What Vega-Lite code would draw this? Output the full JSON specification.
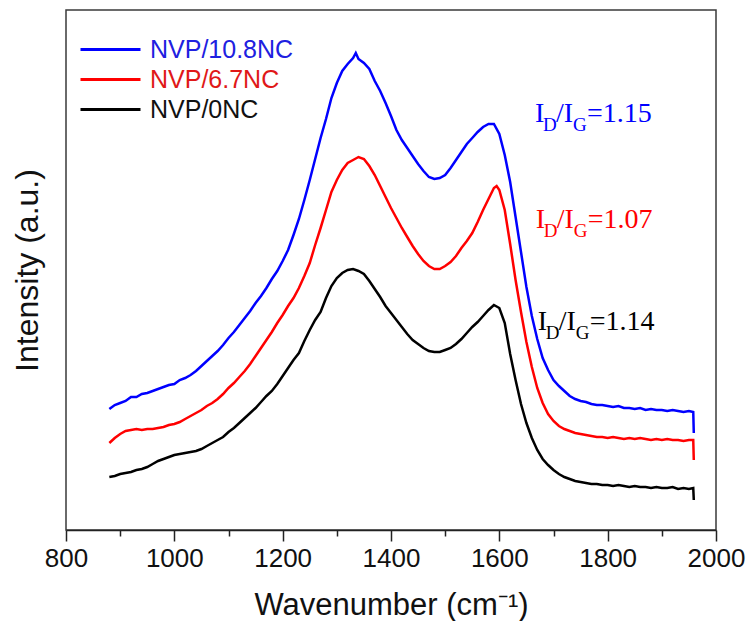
{
"$schema": "https://vega.github.io/schema/vega-lite/v6.json",
"width": 650, "height": 520,
"autosize": {"type": "none"},
"padding": {"left": 66, "top": 10, "right": 30, "bottom": 91},
"background": "white",
"config": {"view": {"stroke": "#3a3a3a", "strokeWidth": 1.5}, "font": "Liberation Sans"},
"datasets": {
"curves": [
{"s":"NVP/10.8NC","wn":880,"int":121},{"s":"NVP/10.8NC","wn":890,"int":125},{"s":"NVP/10.8NC","wn":900,"int":127},{"s":"NVP/10.8NC","wn":910,"int":129},{"s":"NVP/10.8NC","wn":920,"int":133},{"s":"NVP/10.8NC","wn":930,"int":133},{"s":"NVP/10.8NC","wn":940,"int":136},{"s":"NVP/10.8NC","wn":950,"int":137},{"s":"NVP/10.8NC","wn":960,"int":139},{"s":"NVP/10.8NC","wn":970,"int":141},{"s":"NVP/10.8NC","wn":980,"int":143},{"s":"NVP/10.8NC","wn":990,"int":145},{"s":"NVP/10.8NC","wn":1000,"int":146},{"s":"NVP/10.8NC","wn":1010,"int":150},{"s":"NVP/10.8NC","wn":1020,"int":152},{"s":"NVP/10.8NC","wn":1030,"int":155},{"s":"NVP/10.8NC","wn":1040,"int":159},{"s":"NVP/10.8NC","wn":1050,"int":164},{"s":"NVP/10.8NC","wn":1060,"int":169},{"s":"NVP/10.8NC","wn":1070,"int":174},{"s":"NVP/10.8NC","wn":1080,"int":179},{"s":"NVP/10.8NC","wn":1090,"int":185},{"s":"NVP/10.8NC","wn":1100,"int":192},{"s":"NVP/10.8NC","wn":1110,"int":198},{"s":"NVP/10.8NC","wn":1120,"int":205},{"s":"NVP/10.8NC","wn":1130,"int":212},{"s":"NVP/10.8NC","wn":1140,"int":219},{"s":"NVP/10.8NC","wn":1150,"int":227},{"s":"NVP/10.8NC","wn":1160,"int":234},{"s":"NVP/10.8NC","wn":1170,"int":242},{"s":"NVP/10.8NC","wn":1180,"int":251},{"s":"NVP/10.8NC","wn":1190,"int":259},{"s":"NVP/10.8NC","wn":1200,"int":269},{"s":"NVP/10.8NC","wn":1210,"int":280},{"s":"NVP/10.8NC","wn":1220,"int":295},{"s":"NVP/10.8NC","wn":1230,"int":311},{"s":"NVP/10.8NC","wn":1240,"int":330},{"s":"NVP/10.8NC","wn":1250,"int":350},{"s":"NVP/10.8NC","wn":1260,"int":371},{"s":"NVP/10.8NC","wn":1270,"int":392},{"s":"NVP/10.8NC","wn":1280,"int":411},{"s":"NVP/10.8NC","wn":1290,"int":432},{"s":"NVP/10.8NC","wn":1300,"int":447},{"s":"NVP/10.8NC","wn":1310,"int":459},{"s":"NVP/10.8NC","wn":1320,"int":466},{"s":"NVP/10.8NC","wn":1330,"int":472},{"s":"NVP/10.8NC","wn":1335,"int":477},{"s":"NVP/10.8NC","wn":1340,"int":471},{"s":"NVP/10.8NC","wn":1350,"int":467},{"s":"NVP/10.8NC","wn":1360,"int":461},{"s":"NVP/10.8NC","wn":1370,"int":449},{"s":"NVP/10.8NC","wn":1380,"int":439},{"s":"NVP/10.8NC","wn":1390,"int":427},{"s":"NVP/10.8NC","wn":1400,"int":414},{"s":"NVP/10.8NC","wn":1410,"int":400},{"s":"NVP/10.8NC","wn":1420,"int":390},{"s":"NVP/10.8NC","wn":1430,"int":382},{"s":"NVP/10.8NC","wn":1440,"int":374},{"s":"NVP/10.8NC","wn":1450,"int":366},{"s":"NVP/10.8NC","wn":1460,"int":359},{"s":"NVP/10.8NC","wn":1470,"int":353},{"s":"NVP/10.8NC","wn":1480,"int":351},{"s":"NVP/10.8NC","wn":1490,"int":352},{"s":"NVP/10.8NC","wn":1500,"int":355},{"s":"NVP/10.8NC","wn":1510,"int":362},{"s":"NVP/10.8NC","wn":1520,"int":370},{"s":"NVP/10.8NC","wn":1530,"int":378},{"s":"NVP/10.8NC","wn":1540,"int":386},{"s":"NVP/10.8NC","wn":1550,"int":392},{"s":"NVP/10.8NC","wn":1560,"int":398},{"s":"NVP/10.8NC","wn":1570,"int":403},{"s":"NVP/10.8NC","wn":1580,"int":406},{"s":"NVP/10.8NC","wn":1590,"int":406},{"s":"NVP/10.8NC","wn":1600,"int":396},{"s":"NVP/10.8NC","wn":1610,"int":375},{"s":"NVP/10.8NC","wn":1620,"int":348},{"s":"NVP/10.8NC","wn":1630,"int":313},{"s":"NVP/10.8NC","wn":1640,"int":278},{"s":"NVP/10.8NC","wn":1650,"int":243},{"s":"NVP/10.8NC","wn":1660,"int":214},{"s":"NVP/10.8NC","wn":1670,"int":191},{"s":"NVP/10.8NC","wn":1680,"int":172},{"s":"NVP/10.8NC","wn":1690,"int":160},{"s":"NVP/10.8NC","wn":1700,"int":150},{"s":"NVP/10.8NC","wn":1710,"int":144},{"s":"NVP/10.8NC","wn":1720,"int":139},{"s":"NVP/10.8NC","wn":1730,"int":134},{"s":"NVP/10.8NC","wn":1740,"int":131},{"s":"NVP/10.8NC","wn":1750,"int":129},{"s":"NVP/10.8NC","wn":1760,"int":128},{"s":"NVP/10.8NC","wn":1770,"int":126},{"s":"NVP/10.8NC","wn":1780,"int":125},{"s":"NVP/10.8NC","wn":1790,"int":125},{"s":"NVP/10.8NC","wn":1800,"int":124},{"s":"NVP/10.8NC","wn":1810,"int":123},{"s":"NVP/10.8NC","wn":1820,"int":124},{"s":"NVP/10.8NC","wn":1830,"int":122},{"s":"NVP/10.8NC","wn":1840,"int":122},{"s":"NVP/10.8NC","wn":1850,"int":121},{"s":"NVP/10.8NC","wn":1860,"int":122},{"s":"NVP/10.8NC","wn":1870,"int":120},{"s":"NVP/10.8NC","wn":1880,"int":121},{"s":"NVP/10.8NC","wn":1890,"int":120},{"s":"NVP/10.8NC","wn":1900,"int":120},{"s":"NVP/10.8NC","wn":1910,"int":119},{"s":"NVP/10.8NC","wn":1920,"int":120},{"s":"NVP/10.8NC","wn":1930,"int":119},{"s":"NVP/10.8NC","wn":1940,"int":118},{"s":"NVP/10.8NC","wn":1950,"int":119},{"s":"NVP/10.8NC","wn":1958,"int":118},{"s":"NVP/10.8NC","wn":1959,"int":97},
{"s":"NVP/6.7NC","wn":880,"int":87},{"s":"NVP/6.7NC","wn":890,"int":92},{"s":"NVP/6.7NC","wn":900,"int":96},{"s":"NVP/6.7NC","wn":910,"int":99},{"s":"NVP/6.7NC","wn":920,"int":100},{"s":"NVP/6.7NC","wn":930,"int":101},{"s":"NVP/6.7NC","wn":940,"int":100},{"s":"NVP/6.7NC","wn":950,"int":101},{"s":"NVP/6.7NC","wn":960,"int":101},{"s":"NVP/6.7NC","wn":970,"int":102},{"s":"NVP/6.7NC","wn":980,"int":103},{"s":"NVP/6.7NC","wn":990,"int":105},{"s":"NVP/6.7NC","wn":1000,"int":106},{"s":"NVP/6.7NC","wn":1010,"int":108},{"s":"NVP/6.7NC","wn":1020,"int":111},{"s":"NVP/6.7NC","wn":1030,"int":114},{"s":"NVP/6.7NC","wn":1040,"int":117},{"s":"NVP/6.7NC","wn":1050,"int":120},{"s":"NVP/6.7NC","wn":1060,"int":124},{"s":"NVP/6.7NC","wn":1070,"int":127},{"s":"NVP/6.7NC","wn":1080,"int":131},{"s":"NVP/6.7NC","wn":1090,"int":136},{"s":"NVP/6.7NC","wn":1100,"int":142},{"s":"NVP/6.7NC","wn":1110,"int":147},{"s":"NVP/6.7NC","wn":1120,"int":153},{"s":"NVP/6.7NC","wn":1130,"int":159},{"s":"NVP/6.7NC","wn":1140,"int":166},{"s":"NVP/6.7NC","wn":1150,"int":174},{"s":"NVP/6.7NC","wn":1160,"int":182},{"s":"NVP/6.7NC","wn":1170,"int":190},{"s":"NVP/6.7NC","wn":1180,"int":198},{"s":"NVP/6.7NC","wn":1190,"int":207},{"s":"NVP/6.7NC","wn":1200,"int":215},{"s":"NVP/6.7NC","wn":1210,"int":224},{"s":"NVP/6.7NC","wn":1220,"int":232},{"s":"NVP/6.7NC","wn":1230,"int":242},{"s":"NVP/6.7NC","wn":1240,"int":254},{"s":"NVP/6.7NC","wn":1250,"int":267},{"s":"NVP/6.7NC","wn":1260,"int":285},{"s":"NVP/6.7NC","wn":1270,"int":302},{"s":"NVP/6.7NC","wn":1280,"int":320},{"s":"NVP/6.7NC","wn":1290,"int":338},{"s":"NVP/6.7NC","wn":1300,"int":350},{"s":"NVP/6.7NC","wn":1310,"int":360},{"s":"NVP/6.7NC","wn":1320,"int":367},{"s":"NVP/6.7NC","wn":1330,"int":370},{"s":"NVP/6.7NC","wn":1340,"int":373},{"s":"NVP/6.7NC","wn":1350,"int":371},{"s":"NVP/6.7NC","wn":1360,"int":364},{"s":"NVP/6.7NC","wn":1370,"int":355},{"s":"NVP/6.7NC","wn":1380,"int":344},{"s":"NVP/6.7NC","wn":1390,"int":333},{"s":"NVP/6.7NC","wn":1400,"int":322},{"s":"NVP/6.7NC","wn":1410,"int":312},{"s":"NVP/6.7NC","wn":1420,"int":302},{"s":"NVP/6.7NC","wn":1430,"int":293},{"s":"NVP/6.7NC","wn":1440,"int":284},{"s":"NVP/6.7NC","wn":1450,"int":276},{"s":"NVP/6.7NC","wn":1460,"int":269},{"s":"NVP/6.7NC","wn":1470,"int":264},{"s":"NVP/6.7NC","wn":1480,"int":261},{"s":"NVP/6.7NC","wn":1490,"int":261},{"s":"NVP/6.7NC","wn":1500,"int":264},{"s":"NVP/6.7NC","wn":1510,"int":268},{"s":"NVP/6.7NC","wn":1520,"int":274},{"s":"NVP/6.7NC","wn":1530,"int":282},{"s":"NVP/6.7NC","wn":1540,"int":289},{"s":"NVP/6.7NC","wn":1550,"int":297},{"s":"NVP/6.7NC","wn":1560,"int":308},{"s":"NVP/6.7NC","wn":1570,"int":320},{"s":"NVP/6.7NC","wn":1580,"int":331},{"s":"NVP/6.7NC","wn":1590,"int":342},{"s":"NVP/6.7NC","wn":1595,"int":344},{"s":"NVP/6.7NC","wn":1600,"int":340},{"s":"NVP/6.7NC","wn":1610,"int":320},{"s":"NVP/6.7NC","wn":1620,"int":286},{"s":"NVP/6.7NC","wn":1630,"int":250},{"s":"NVP/6.7NC","wn":1640,"int":218},{"s":"NVP/6.7NC","wn":1650,"int":188},{"s":"NVP/6.7NC","wn":1660,"int":163},{"s":"NVP/6.7NC","wn":1670,"int":142},{"s":"NVP/6.7NC","wn":1680,"int":127},{"s":"NVP/6.7NC","wn":1690,"int":116},{"s":"NVP/6.7NC","wn":1700,"int":109},{"s":"NVP/6.7NC","wn":1710,"int":104},{"s":"NVP/6.7NC","wn":1720,"int":101},{"s":"NVP/6.7NC","wn":1730,"int":99},{"s":"NVP/6.7NC","wn":1740,"int":97},{"s":"NVP/6.7NC","wn":1750,"int":96},{"s":"NVP/6.7NC","wn":1760,"int":95},{"s":"NVP/6.7NC","wn":1770,"int":94},{"s":"NVP/6.7NC","wn":1780,"int":93},{"s":"NVP/6.7NC","wn":1790,"int":93},{"s":"NVP/6.7NC","wn":1800,"int":92},{"s":"NVP/6.7NC","wn":1810,"int":93},{"s":"NVP/6.7NC","wn":1820,"int":92},{"s":"NVP/6.7NC","wn":1830,"int":91},{"s":"NVP/6.7NC","wn":1840,"int":92},{"s":"NVP/6.7NC","wn":1850,"int":91},{"s":"NVP/6.7NC","wn":1860,"int":92},{"s":"NVP/6.7NC","wn":1870,"int":91},{"s":"NVP/6.7NC","wn":1880,"int":90},{"s":"NVP/6.7NC","wn":1890,"int":91},{"s":"NVP/6.7NC","wn":1900,"int":90},{"s":"NVP/6.7NC","wn":1910,"int":91},{"s":"NVP/6.7NC","wn":1920,"int":90},{"s":"NVP/6.7NC","wn":1930,"int":90},{"s":"NVP/6.7NC","wn":1940,"int":89},{"s":"NVP/6.7NC","wn":1950,"int":90},{"s":"NVP/6.7NC","wn":1958,"int":90},{"s":"NVP/6.7NC","wn":1959,"int":70},
{"s":"NVP/0NC","wn":880,"int":53},{"s":"NVP/0NC","wn":890,"int":54},{"s":"NVP/0NC","wn":900,"int":56},{"s":"NVP/0NC","wn":910,"int":57},{"s":"NVP/0NC","wn":920,"int":58},{"s":"NVP/0NC","wn":930,"int":60},{"s":"NVP/0NC","wn":940,"int":61},{"s":"NVP/0NC","wn":950,"int":63},{"s":"NVP/0NC","wn":960,"int":66},{"s":"NVP/0NC","wn":970,"int":69},{"s":"NVP/0NC","wn":980,"int":71},{"s":"NVP/0NC","wn":990,"int":73},{"s":"NVP/0NC","wn":1000,"int":75},{"s":"NVP/0NC","wn":1010,"int":76},{"s":"NVP/0NC","wn":1020,"int":77},{"s":"NVP/0NC","wn":1030,"int":78},{"s":"NVP/0NC","wn":1040,"int":79},{"s":"NVP/0NC","wn":1050,"int":81},{"s":"NVP/0NC","wn":1060,"int":84},{"s":"NVP/0NC","wn":1070,"int":87},{"s":"NVP/0NC","wn":1080,"int":90},{"s":"NVP/0NC","wn":1090,"int":93},{"s":"NVP/0NC","wn":1100,"int":98},{"s":"NVP/0NC","wn":1110,"int":102},{"s":"NVP/0NC","wn":1120,"int":107},{"s":"NVP/0NC","wn":1130,"int":112},{"s":"NVP/0NC","wn":1140,"int":117},{"s":"NVP/0NC","wn":1150,"int":122},{"s":"NVP/0NC","wn":1160,"int":128},{"s":"NVP/0NC","wn":1170,"int":134},{"s":"NVP/0NC","wn":1180,"int":139},{"s":"NVP/0NC","wn":1190,"int":146},{"s":"NVP/0NC","wn":1200,"int":154},{"s":"NVP/0NC","wn":1210,"int":162},{"s":"NVP/0NC","wn":1220,"int":170},{"s":"NVP/0NC","wn":1230,"int":177},{"s":"NVP/0NC","wn":1240,"int":189},{"s":"NVP/0NC","wn":1250,"int":200},{"s":"NVP/0NC","wn":1260,"int":210},{"s":"NVP/0NC","wn":1270,"int":218},{"s":"NVP/0NC","wn":1280,"int":232},{"s":"NVP/0NC","wn":1290,"int":244},{"s":"NVP/0NC","wn":1300,"int":252},{"s":"NVP/0NC","wn":1310,"int":257},{"s":"NVP/0NC","wn":1320,"int":260},{"s":"NVP/0NC","wn":1330,"int":261},{"s":"NVP/0NC","wn":1340,"int":259},{"s":"NVP/0NC","wn":1350,"int":256},{"s":"NVP/0NC","wn":1360,"int":249},{"s":"NVP/0NC","wn":1370,"int":241},{"s":"NVP/0NC","wn":1380,"int":233},{"s":"NVP/0NC","wn":1390,"int":224},{"s":"NVP/0NC","wn":1400,"int":217},{"s":"NVP/0NC","wn":1410,"int":210},{"s":"NVP/0NC","wn":1420,"int":203},{"s":"NVP/0NC","wn":1430,"int":196},{"s":"NVP/0NC","wn":1440,"int":190},{"s":"NVP/0NC","wn":1450,"int":186},{"s":"NVP/0NC","wn":1460,"int":182},{"s":"NVP/0NC","wn":1470,"int":179},{"s":"NVP/0NC","wn":1480,"int":178},{"s":"NVP/0NC","wn":1490,"int":178},{"s":"NVP/0NC","wn":1500,"int":180},{"s":"NVP/0NC","wn":1510,"int":182},{"s":"NVP/0NC","wn":1520,"int":186},{"s":"NVP/0NC","wn":1530,"int":191},{"s":"NVP/0NC","wn":1540,"int":197},{"s":"NVP/0NC","wn":1550,"int":203},{"s":"NVP/0NC","wn":1560,"int":208},{"s":"NVP/0NC","wn":1570,"int":214},{"s":"NVP/0NC","wn":1580,"int":220},{"s":"NVP/0NC","wn":1590,"int":225},{"s":"NVP/0NC","wn":1600,"int":222},{"s":"NVP/0NC","wn":1610,"int":207},{"s":"NVP/0NC","wn":1620,"int":176},{"s":"NVP/0NC","wn":1630,"int":150},{"s":"NVP/0NC","wn":1640,"int":126},{"s":"NVP/0NC","wn":1650,"int":107},{"s":"NVP/0NC","wn":1660,"int":92},{"s":"NVP/0NC","wn":1670,"int":80},{"s":"NVP/0NC","wn":1680,"int":71},{"s":"NVP/0NC","wn":1690,"int":65},{"s":"NVP/0NC","wn":1700,"int":60},{"s":"NVP/0NC","wn":1710,"int":56},{"s":"NVP/0NC","wn":1720,"int":53},{"s":"NVP/0NC","wn":1730,"int":51},{"s":"NVP/0NC","wn":1740,"int":49},{"s":"NVP/0NC","wn":1750,"int":48},{"s":"NVP/0NC","wn":1760,"int":47},{"s":"NVP/0NC","wn":1770,"int":46},{"s":"NVP/0NC","wn":1780,"int":46},{"s":"NVP/0NC","wn":1790,"int":45},{"s":"NVP/0NC","wn":1800,"int":45},{"s":"NVP/0NC","wn":1810,"int":44},{"s":"NVP/0NC","wn":1820,"int":45},{"s":"NVP/0NC","wn":1830,"int":44},{"s":"NVP/0NC","wn":1840,"int":43},{"s":"NVP/0NC","wn":1850,"int":44},{"s":"NVP/0NC","wn":1860,"int":43},{"s":"NVP/0NC","wn":1870,"int":43},{"s":"NVP/0NC","wn":1880,"int":42},{"s":"NVP/0NC","wn":1890,"int":43},{"s":"NVP/0NC","wn":1900,"int":42},{"s":"NVP/0NC","wn":1910,"int":42},{"s":"NVP/0NC","wn":1920,"int":43},{"s":"NVP/0NC","wn":1930,"int":41},{"s":"NVP/0NC","wn":1940,"int":42},{"s":"NVP/0NC","wn":1950,"int":41},{"s":"NVP/0NC","wn":1958,"int":42},{"s":"NVP/0NC","wn":1959,"int":30}
],
"ann": [
{"s":"NVP/10.8NC","wn":1666,"int":408,"r":"=1.15"},
{"s":"NVP/6.7NC","wn":1667,"int":302,"r":"=1.07"},
{"s":"NVP/0NC","wn":1671,"int":200,"r":"=1.14"}
]
},
"layer": [
{
"data": {"name": "curves"},
"mark": {"type": "line", "strokeWidth": 2.5, "interpolate": "linear"},
"encoding": {
"x": {"field": "wn", "type": "quantitative", "scale": {"domain": [800, 2000], "nice": false, "zero": false},
"axis": {"values": [800,900,1000,1100,1200,1300,1400,1500,1600,1700,1800,1900,2000], "format": "d",
"labelExpr": "datum.value % 200 === 0 ? datum.label : ''",
"tickSize": {"condition": {"test": "datum.value % 200 === 0", "value": 11}, "value": 6},
"tickWidth": 1.5, "tickColor": "#222", "domainColor": "#222", "domainWidth": 1.5,
"labelFont": "Liberation Sans", "labelFontSize": 26, "labelColor": "#111", "labelPadding": 4, "labelOverlap": false, "labelFlush": false,
"grid": false, "title": "Wavenumber (cm⁻¹)", "titleFont": "Liberation Sans", "titleFontSize": 31, "titleFontWeight": "normal", "titleColor": "#111", "titlePadding": 19}},
"y": {"field": "int", "type": "quantitative", "scale": {"domain": [0, 520], "nice": false, "zero": false},
"axis": {"labels": false, "ticks": false, "domain": false, "grid": false, "title": "Intensity (a.u.)", "titleFont": "Liberation Sans", "titleFontSize": 32, "titleFontWeight": "normal", "titleColor": "#111", "titlePadding": 22}},
"color": {"field": "s", "type": "nominal", "scale": {"domain": ["NVP/10.8NC", "NVP/6.7NC", "NVP/0NC"], "range": ["#0000ff", "#ff0000", "#000000"]},
"legend": {"title": null, "orient": "none", "legendX": 28, "legendY": 23, "padding": 0, "symbolType": "M-2,0H2", "symbolSize": 900, "symbolStrokeWidth": 3,
"labelFont": "Liberation Sans", "labelFontSize": 25, "labelOffset": 23, "rowPadding": 0, "labelLimit": 300,
"labelColor": {"expr": "datum.value === 'NVP/10.8NC' ? '#2020e0' : datum.value === 'NVP/6.7NC' ? '#e01818' : '#111111'"}}}
}
},
{
"data": {"name": "ann"},
"mark": {"type": "text", "font": "Liberation Serif", "fontSize": 28, "align": "left", "baseline": "alphabetic"},
"encoding": {"x": {"field": "wn", "type": "quantitative"}, "y": {"field": "int", "type": "quantitative"}, "text": {"value": "I"}, "color": {"field": "s", "type": "nominal", "legend": null}}
},
{
"data": {"name": "ann"},
"mark": {"type": "text", "font": "Liberation Serif", "fontSize": 19, "align": "left", "baseline": "alphabetic", "dx": 8, "dy": 9},
"encoding": {"x": {"field": "wn", "type": "quantitative"}, "y": {"field": "int", "type": "quantitative"}, "text": {"value": "D"}, "color": {"field": "s", "type": "nominal", "legend": null}}
},
{
"data": {"name": "ann"},
"mark": {"type": "text", "font": "Liberation Serif", "fontSize": 28, "align": "left", "baseline": "alphabetic", "dx": 21},
"encoding": {"x": {"field": "wn", "type": "quantitative"}, "y": {"field": "int", "type": "quantitative"}, "text": {"value": "/I"}, "color": {"field": "s", "type": "nominal", "legend": null}}
},
{
"data": {"name": "ann"},
"mark": {"type": "text", "font": "Liberation Serif", "fontSize": 19, "align": "left", "baseline": "alphabetic", "dx": 38, "dy": 9},
"encoding": {"x": {"field": "wn", "type": "quantitative"}, "y": {"field": "int", "type": "quantitative"}, "text": {"value": "G"}, "color": {"field": "s", "type": "nominal", "legend": null}}
},
{
"data": {"name": "ann"},
"mark": {"type": "text", "font": "Liberation Serif", "fontSize": 28, "align": "left", "baseline": "alphabetic", "dx": 52},
"encoding": {"x": {"field": "wn", "type": "quantitative"}, "y": {"field": "int", "type": "quantitative"}, "text": {"field": "r"}, "color": {"field": "s", "type": "nominal", "legend": null}}
}
]
}
